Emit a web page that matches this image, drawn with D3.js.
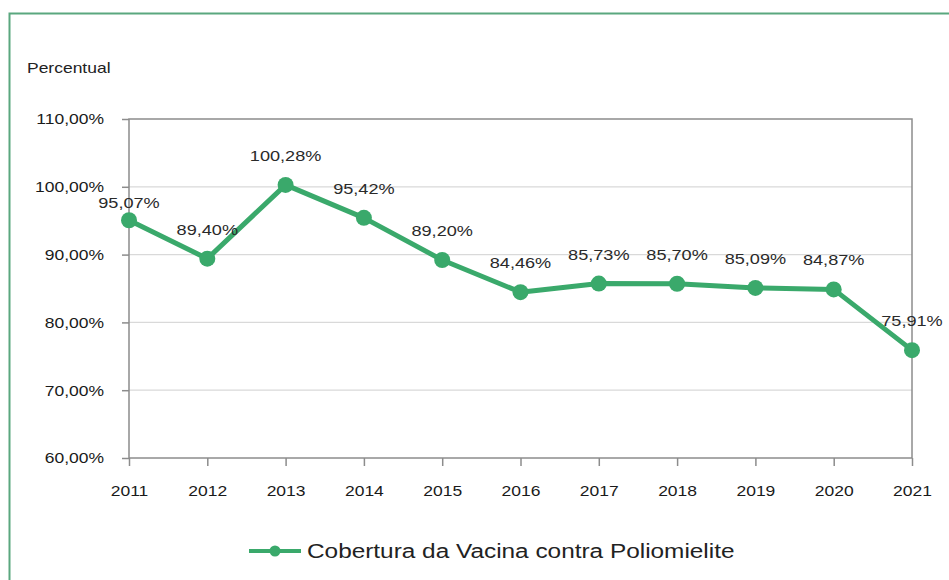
<!DOCTYPE html>
<meta charset="utf-8">
<style>
body { margin: 0; background: #fff; }
svg { display: block; font-family: "Liberation Sans", Arial, sans-serif; }
.ticks text { font-size: 14px; fill: #1a1a1a; }
.label { font-size: 14.5px; fill: #2a2a2a; text-anchor: middle; }
</style>
<svg width="949" height="580"></svg>
<script src="https://d3js.org/d3.v7.min.js"></script>
<script>

var years = [2011, 2012, 2013, 2014, 2015, 2016, 2017, 2018, 2019, 2020, 2021];
var coverage = [95.07, 89.40, 100.28, 95.42, 89.20, 84.46, 85.73, 85.70, 85.09, 84.87, 75.91];
var yTicks = [60, 70, 80, 90, 100, 110];
var seriesName = "Cobertura da Vacina contra Poliomielite";

var svg = d3.select("svg"),
    green = "#3aa96b",
    stretch = 1.25, // the source picture is a little wide, text included
    margin = {top: 119, right: 37, bottom: 122, left: 129},
    width = +svg.attr("width") - margin.left - margin.right,
    height = +svg.attr("height") - margin.top - margin.bottom;

var fmt = function(v) { return v.toFixed(2).replace(".", ",") + "%"; };

// outer frame (only top and left edges show in the crop)
svg.append("path")
    .attr("d", "M9.5,580V13.5H949")
    .attr("fill", "none")
    .attr("stroke", "#5aa77f")
    .attr("stroke-width", 2);

svg.append("text")
    .attr("x", 27)
    .attr("y", 73)
    .attr("font-size", 14)
    .attr("fill", "#222")
    .text("Percentual");

var x = d3.scalePoint()
    .domain(years)
    .range([0, width]);

var y = d3.scaleLinear()
    .domain([60, 110])
    .range([height, 0]);

var g = svg.append("g")
    .attr("transform", "translate(" + margin.left + "," + margin.top + ")");

// gridlines
g.append("g")
  .selectAll("line")
  .data(yTicks.slice(1, -1))
  .enter().append("line")
    .attr("x1", 0)
    .attr("x2", width)
    .attr("y1", function(d) { return y(d); })
    .attr("y2", function(d) { return y(d); })
    .attr("stroke", "#d9d9d9")
    .attr("stroke-width", 1.2);

// frame of plot area
g.append("rect")
    .attr("width", width)
    .attr("height", height)
    .attr("fill", "none")
    .attr("stroke", "#8c8c8c")
    .attr("stroke-width", 1.5);

g.append("g")
    .attr("class", "ticks")
    .call(d3.axisLeft(y).tickValues(yTicks).tickFormat(fmt).tickSize(7).tickPadding(18))
    .call(function(a) { a.select(".domain").remove(); })
    .call(function(a) { a.selectAll("line").attr("stroke", "#8c8c8c").attr("stroke-width", 1.5); })
    .selectAll("text").attr("dy", "0.35em");

g.append("g")
    .attr("class", "ticks")
    .attr("transform", "translate(0," + height + ")")
    .call(d3.axisBottom(x).tickSize(8).tickPadding(20))
    .call(function(a) { a.select(".domain").remove(); })
    .call(function(a) { a.selectAll("line").attr("stroke", "#8c8c8c").attr("stroke-width", 1.5); });

var line = d3.line()
    .x(function(d, i) { return x(years[i]); })
    .y(function(d) { return y(d); });

g.append("path")
    .datum(coverage)
    .attr("d", line)
    .attr("fill", "none")
    .attr("stroke", green)
    .attr("stroke-width", 5)
    .attr("stroke-linejoin", "round");

g.selectAll(".dot")
    .data(coverage)
  .enter().append("circle")
    .attr("class", "dot")
    .attr("cx", function(d, i) { return x(years[i]); })
    .attr("cy", function(d) { return y(d); })
    .attr("r", 8)
    .attr("fill", green);

g.selectAll(".label")
    .data(coverage)
  .enter().append("text")
    .attr("class", "label")
    .attr("x", function(d, i) { return x(years[i]); })
    .attr("y", function(d, i) { return y(d) - (i === 0 ? 12 : 24); })
    .text(fmt);

// legend
var legend = svg.append("g")
    .attr("transform", "translate(249,551)");

legend.append("line")
    .attr("x1", 0)
    .attr("x2", 52)
    .attr("stroke", green)
    .attr("stroke-width", 4);

legend.append("circle")
    .attr("cx", 26)
    .attr("r", 5.5)
    .attr("fill", green);

legend.append("text")
    .attr("x", 58)
    .attr("dy", "0.35em")
    .attr("font-size", 19.5)
    .attr("fill", "#222")
    .text(seriesName);

// widen every text horizontally, keeping its anchor point
svg.selectAll("text").each(function() {
  var t = d3.select(this),
      tx = +(t.attr("x") || 0);
  t.attr("x", tx / stretch)
   .attr("transform", "scale(" + stretch + ",1)");
});

</script>
